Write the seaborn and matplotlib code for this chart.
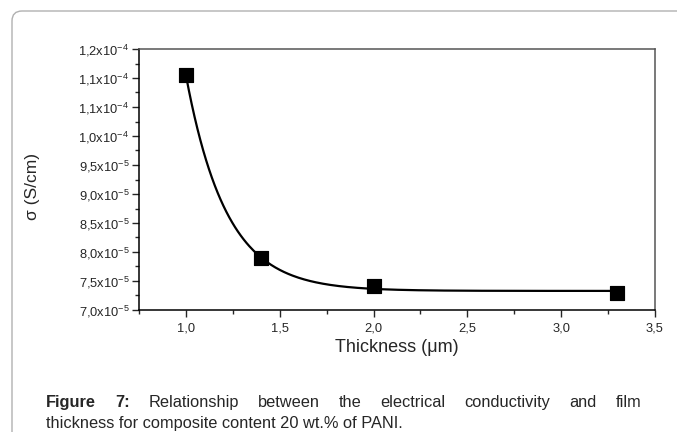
import numpy as np
import pandas as pd
import matplotlib
matplotlib.use("Agg")
import matplotlib.pyplot as plt
import seaborn as sns
from matplotlib.patches import FancyBboxPatch
from matplotlib.ticker import FixedLocator, MultipleLocator

# ---- data ----
thickness = [1.0, 1.4, 2.0, 3.3]
sigma = [1.105e-4, 7.90e-5, 7.41e-5, 7.29e-5]
y_ticks = [7.0e-5, 7.5e-5, 8.0e-5, 8.5e-5, 9.0e-5, 9.5e-5, 1.0e-4, 1.05e-4, 1.10e-4, 1.15e-4]
y_ticklabels = ["7,0x10$^{-5}$", "7,5x10$^{-5}$", "8,0x10$^{-5}$", "8,5x10$^{-5}$",
                "9,0x10$^{-5}$", "9,5x10$^{-5}$", "1,0x10$^{-4}$", "1,1x10$^{-4}$",
                "1,1x10$^{-4}$", "1,2x10$^{-4}$"]
x_ticks = [1.0, 1.5, 2.0, 2.5, 3.0, 3.5]
x_ticklabels = ["1,0", "1,5", "2,0", "2,5", "3,0", "3,5"]
caption_bold = "Figure 7:"
caption_line1 = "Relationship between the electrical conductivity and film"
caption_line2 = "thickness for composite content 20 wt.% of PANI."

df = pd.DataFrame({"thickness": thickness, "sigma": sigma})

# exponential decay fit  y = y0 + A*exp(-x/t)
xd = np.array(thickness)
yd = np.array(sigma)
best = None
for t in np.linspace(0.05, 2.0, 4000):
    M = np.column_stack([np.ones_like(xd), np.exp(-xd / t)])
    coef, *_ = np.linalg.lstsq(M, yd, rcond=None)
    r = np.sum((M @ coef - yd) ** 2)
    if best is None or r < best[0]:
        best = (r, t, coef)
_, tb, cb = best
xf = np.linspace(min(thickness), max(thickness), 300)
fit_df = pd.DataFrame({"thickness": xf, "sigma": cb[0] + cb[1] * np.exp(-xf / tb)})

# ---- style ----
sns.set_style("ticks")
plt.rcParams["font.family"] = ["Liberation Sans", "DejaVu Sans"]
plt.rcParams["mathtext.default"] = "regular"

fig = plt.figure(figsize=(6.77, 4.32), dpi=100)
ax = fig.add_axes([139 / 677, 1 - 310 / 432, (655 - 139) / 677, (310 - 49) / 432])

sns.lineplot(data=fit_df, x="thickness", y="sigma", ax=ax, color="black", lw=1.6)
sns.scatterplot(data=df, x="thickness", y="sigma", ax=ax, marker="s", s=110,
                color="black", edgecolor="black", zorder=5)

ax.set_xlim(0.75, 3.5)
ax.set_ylim(7.0e-5, 1.15e-4)
ax.xaxis.set_major_locator(FixedLocator(x_ticks))
ax.set_xticklabels(x_ticklabels)
ax.xaxis.set_minor_locator(MultipleLocator(0.25))
ax.yaxis.set_major_locator(FixedLocator(y_ticks))
ax.set_yticklabels(y_ticklabels)
ax.yaxis.set_minor_locator(MultipleLocator(0.25e-5))

ax.tick_params(which="major", direction="out", length=5, width=1, labelsize=9.3, pad=2)
ax.tick_params(axis="x", which="major", pad=4)
ax.tick_params(which="minor", direction="out", length=3, width=1)
ax.tick_params(top=False, right=False, which="both")
for s in ax.spines.values():
    s.set_visible(True)
    s.set_linewidth(1.1)
    s.set_color("black")
ax.spines["top"].set_color("#555555")
ax.spines["right"].set_color("#555555")

ax.set_xlabel("Thickness (\u03bcm)", fontsize=13, labelpad=3)
ax.set_ylabel("")
fig.text(32 / 677, 1 - 186 / 432, "\u03c3 (S/cm)", rotation=90, fontsize=12.5,
         ha="center", va="center")

# frame of the page
box = FancyBboxPatch((0.12, -1.0), 10, 4.21 + 1.0, boxstyle="round,pad=0,rounding_size=0.1",
                     transform=fig.dpi_scale_trans, fill=False, edgecolor="#b0b0b0", lw=1.0,
                     figure=fig)
fig.patches.append(box)

# caption, line 1 justified
fs_cap = 11.8
fig.canvas.draw()
renderer = fig.canvas.get_renderer()
words = [(w, "bold") for w in caption_bold.split()] + [(w, "normal") for w in caption_line1.split()]
left_px, right_px = 46, 641
y1 = 1 - 407 / 432
texts = []
total = 0
for w, wt in words:
    t = fig.text(0, y1, w, fontsize=fs_cap, fontweight=wt, va="baseline", ha="left")
    bb = t.get_window_extent(renderer)
    texts.append((t, bb.width))
    total += bb.width
gap = (right_px - left_px - total) / (len(words) - 1)
xpos = left_px
for t, wdt in texts:
    t.set_x(xpos / 677)
    xpos += wdt + gap
fig.text(left_px / 677, 1 - 428 / 432, caption_line2, fontsize=fs_cap, va="baseline", ha="left")

fig.savefig("out.png", dpi=100)
